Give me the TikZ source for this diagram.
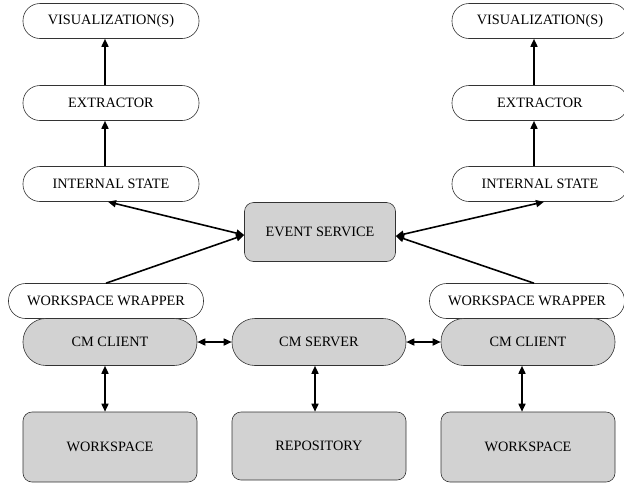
\documentclass[tikz,border=0pt]{standalone}
\usepackage{fontspec}
\setmainfont{Liberation Serif}
\usetikzlibrary{arrows.meta}
\begin{document}
\begin{tikzpicture}[x=1pt,y=-1pt,
  every node/.style={font=\fontsize{14.3}{16}\selectfont, inner sep=0pt},
  pill/.style={draw=black!80, line width=0.6pt, fill=white, rounded corners=17pt,
     minimum width=176pt, minimum height=35pt},
  wrap/.style={pill, minimum width=195pt},
  cmpill/.style={draw=black!80, line width=0.6pt, fill=gray!35, rounded corners=23pt,
     minimum width=174pt, minimum height=47pt},
  gbox/.style={draw=black!80, line width=0.6pt, fill=gray!35, rounded corners=9pt,
     minimum width=174pt, minimum height=70pt},
  conn/.style={line width=1.6pt, -{Triangle[length=8pt,width=7pt]}},
  dconn/.style={line width=1.6pt, {Triangle[length=8pt,width=7pt]}-{Triangle[length=8pt,width=7pt]}}
]
\useasboundingbox (0,0) rectangle (624,483);
% left column
\node[pill] (visL) at (111,21) {VISUALIZATION(S)};
\node[pill] (extL) at (111,103) {EXTRACTOR};
\node[pill] (intL) at (111,184) {INTERNAL STATE};
% right column
\node[pill] (visR) at (540,21) {VISUALIZATION(S)};
\node[pill] (extR) at (540,103) {EXTRACTOR};
\node[pill] (intR) at (540,184) {INTERNAL STATE};
% event service
\node[gbox, minimum width=151pt, minimum height=59pt] (ev) at (320,232) {EVENT SERVICE};
% wrappers and clients
\node[wrap] (wwL) at (106,301) {WORKSPACE WRAPPER};
\node[wrap] (wwR) at (527,301) {WORKSPACE WRAPPER};
\node[cmpill] (cmL) at (110,342) {CM CLIENT};
\node[cmpill] (cmS) at (319,342) {CM SERVER};
\node[cmpill] (cmR) at (528,342) {CM CLIENT};
% bottom boxes
\node[gbox] (wsL) at (110,447) {WORKSPACE};
\node[gbox, minimum height=68pt] (repo) at (319,446) {REPOSITORY};
\node[gbox] (wsR) at (528,447) {WORKSPACE};
% vertical arrows top
\draw[conn] ([xshift=-6pt]extL.north) -- ([xshift=-6pt]visL.south);
\draw[conn] ([xshift=-6pt]intL.north) -- ([xshift=-6pt]extL.south);
\draw[conn] ([xshift=-6pt]extR.north) -- ([xshift=-6pt]visR.south);
\draw[conn] ([xshift=-6pt]intR.north) -- ([xshift=-6pt]extR.south);
% event service connections
\draw[dconn] ([xshift=-3pt]intL.south) -- ([yshift=-3pt]ev.west);
\draw[conn] (wwL.north) -- ([yshift=-3pt]ev.west);
\draw[dconn] ([yshift=-4pt]ev.east) -- ([xshift=4pt]intR.south);
\draw[conn] ([xshift=7pt]wwR.north) -- ([yshift=-4pt]ev.east);
% client-server
\draw[dconn] (cmL.east) -- (cmS.west);
\draw[dconn] (cmS.east) -- (cmR.west);
% client-workspace
\draw[dconn] ([xshift=-5pt]cmL.south) -- ([xshift=-5pt]wsL.north);
\draw[dconn] ([xshift=-4pt]cmS.south) -- ([xshift=-4pt]repo.north);
\draw[dconn] ([xshift=-6pt]cmR.south) -- ([xshift=-6pt]wsR.north);
\end{tikzpicture}
\end{document}
